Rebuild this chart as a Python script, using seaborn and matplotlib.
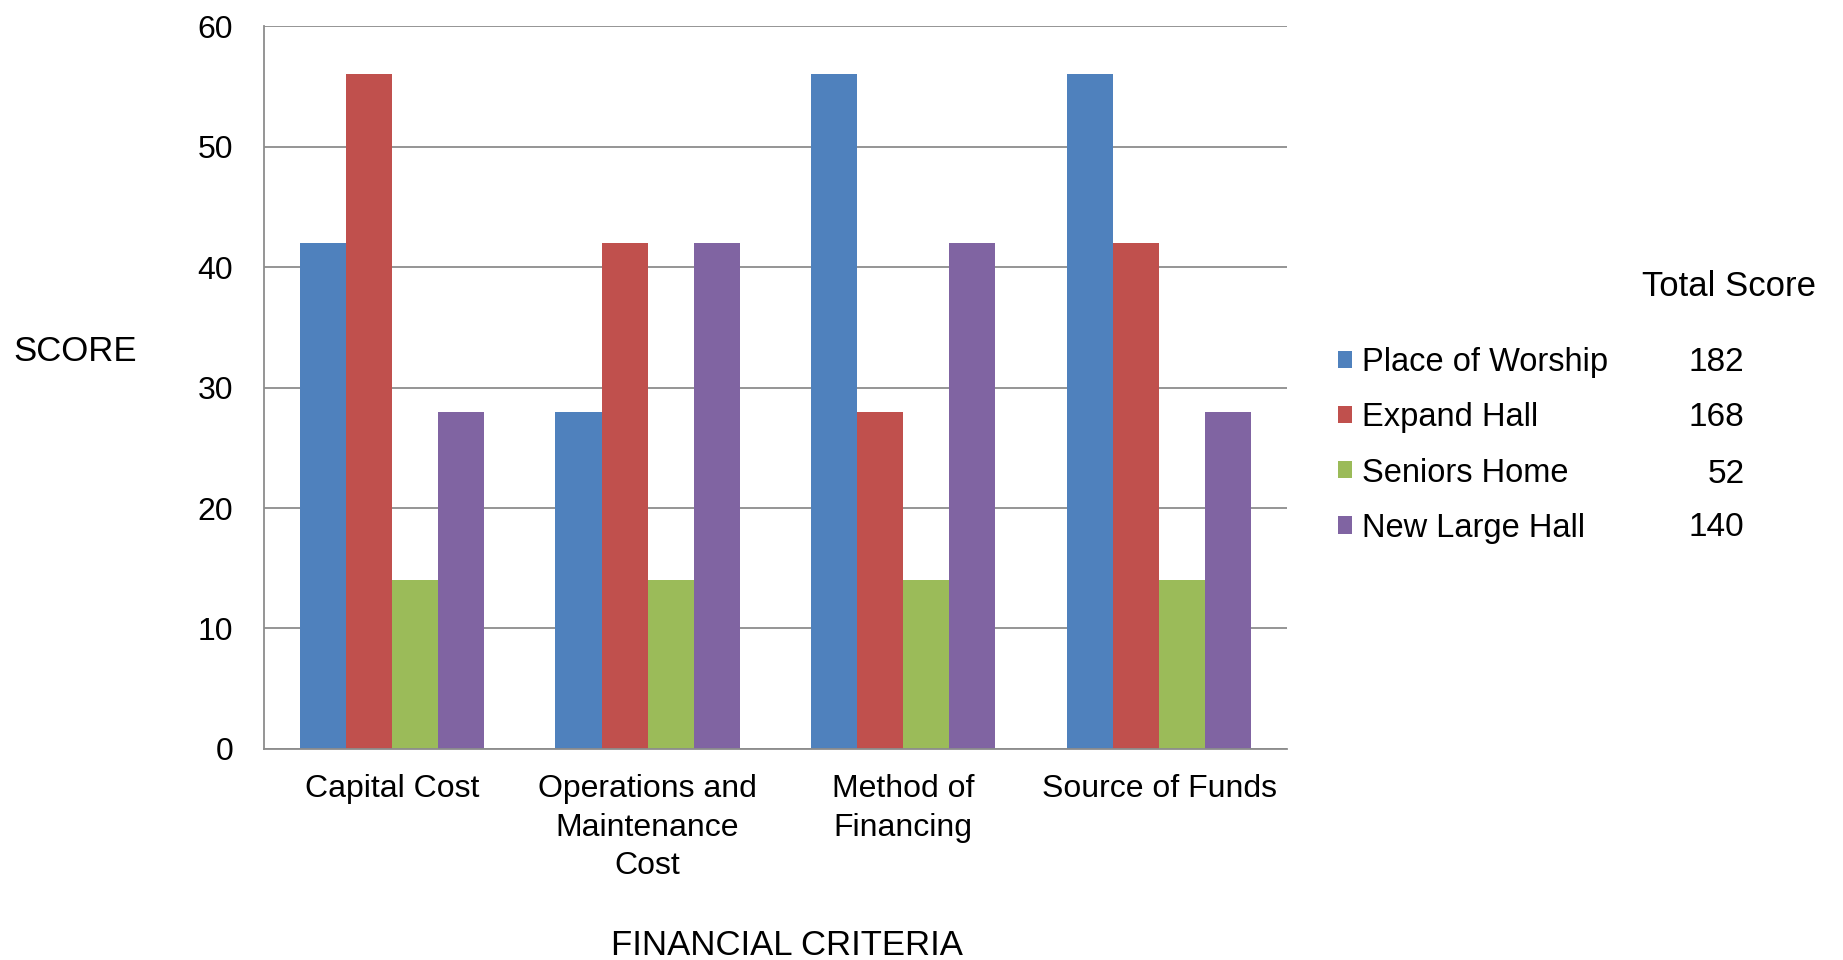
import numpy as np
import pandas as pd
import matplotlib
matplotlib.use("Agg")
import matplotlib.pyplot as plt
import seaborn as sns

# data
criteria = ["Capital Cost", "Operations and\nMaintenance\nCost", "Method of\nFinancing", "Source of Funds"]
options = ["Place of Worship", "Expand Hall", "Seniors Home", "New Large Hall"]
place_of_worship = [42, 28, 56, 56]
expand_hall = [56, 42, 28, 42]
seniors_home = [14, 14, 14, 14]
new_large_hall = [28, 42, 42, 28]
totals = ["182", "168", "52", "140"]
colors = ["#4F81BD", "#C0504D", "#9BBB59", "#8064A2"]

rows = []
for opt, vals in zip(options, [place_of_worship, expand_hall, seniors_home, new_large_hall]):
    for c, v in zip(criteria, vals):
        rows.append({"criteria": c, "option": opt, "score": v})
df = pd.DataFrame(rows)

sns.set_theme(style="white")
plt.rcParams["font.family"] = ["Liberation Sans", "DejaVu Sans"]
plt.rcParams["text.color"] = "black"
plt.rcParams["xtick.color"] = "black"
plt.rcParams["ytick.color"] = "black"

fig = plt.figure(figsize=(18.43, 9.6), dpi=100)
ax = fig.add_axes([0.1432, 0.2198, 0.5551, 0.7531])

sns.barplot(data=df, x="criteria", y="score", hue="option", palette=colors,
            width=0.72, saturation=1, ax=ax, order=criteria, hue_order=options,
            errorbar=None, linewidth=0)

ax.set_ylim(0, 60)
ax.set_xlim(-0.5, 3.5)
ax.set_yticks(range(0, 61, 10))
ax.yaxis.grid(True, color="#8c8c8c", linewidth=1.3)
ax.set_axisbelow(True)
for s in ["top", "right"]:
    ax.spines[s].set_visible(False)
for s in ["left", "bottom"]:
    ax.spines[s].set_color("#8c8c8c")
    ax.spines[s].set_linewidth(1.3)

ax.tick_params(axis="y", length=8, width=1.3, color="#8c8c8c", labelsize=23, pad=14)
ax.tick_params(axis="x", which="major", length=0, labelsize=23, pad=18)
ax.set_xticks(np.arange(-0.5, 4.0, 1.0), minor=True)
ax.tick_params(axis="x", which="minor", length=9, width=1.3, color="#8c8c8c")
for lbl in ax.get_xticklabels():
    lbl.set_linespacing(1.38)

ax.set_xlabel("")
ax.set_ylabel("")
fig.text(0.007, 0.634, "SCORE", fontsize=25, ha="left", va="center")
fig.text(0.427, 0.015, "FINANCIAL CRITERIA", fontsize=25, ha="center", va="center")

handles, labels = ax.get_legend_handles_labels()
ax.get_legend().remove()
fig.legend(handles, labels, loc="center left", bbox_to_anchor=(0.710, 0.536),
           frameon=False, fontsize=23.5, handlelength=0.43, handleheight=0.43,
           handletextpad=0.3, labelspacing=0.74)

fig.text(0.891, 0.702, "Total Score", fontsize=25, ha="left", va="center")
row_y = [0.622, 0.565, 0.506, 0.450]
for t, y in zip(totals, row_y):
    fig.text(0.9465, y, t, fontsize=24, ha="right", va="center")

fig.savefig("out.png", dpi=100)
